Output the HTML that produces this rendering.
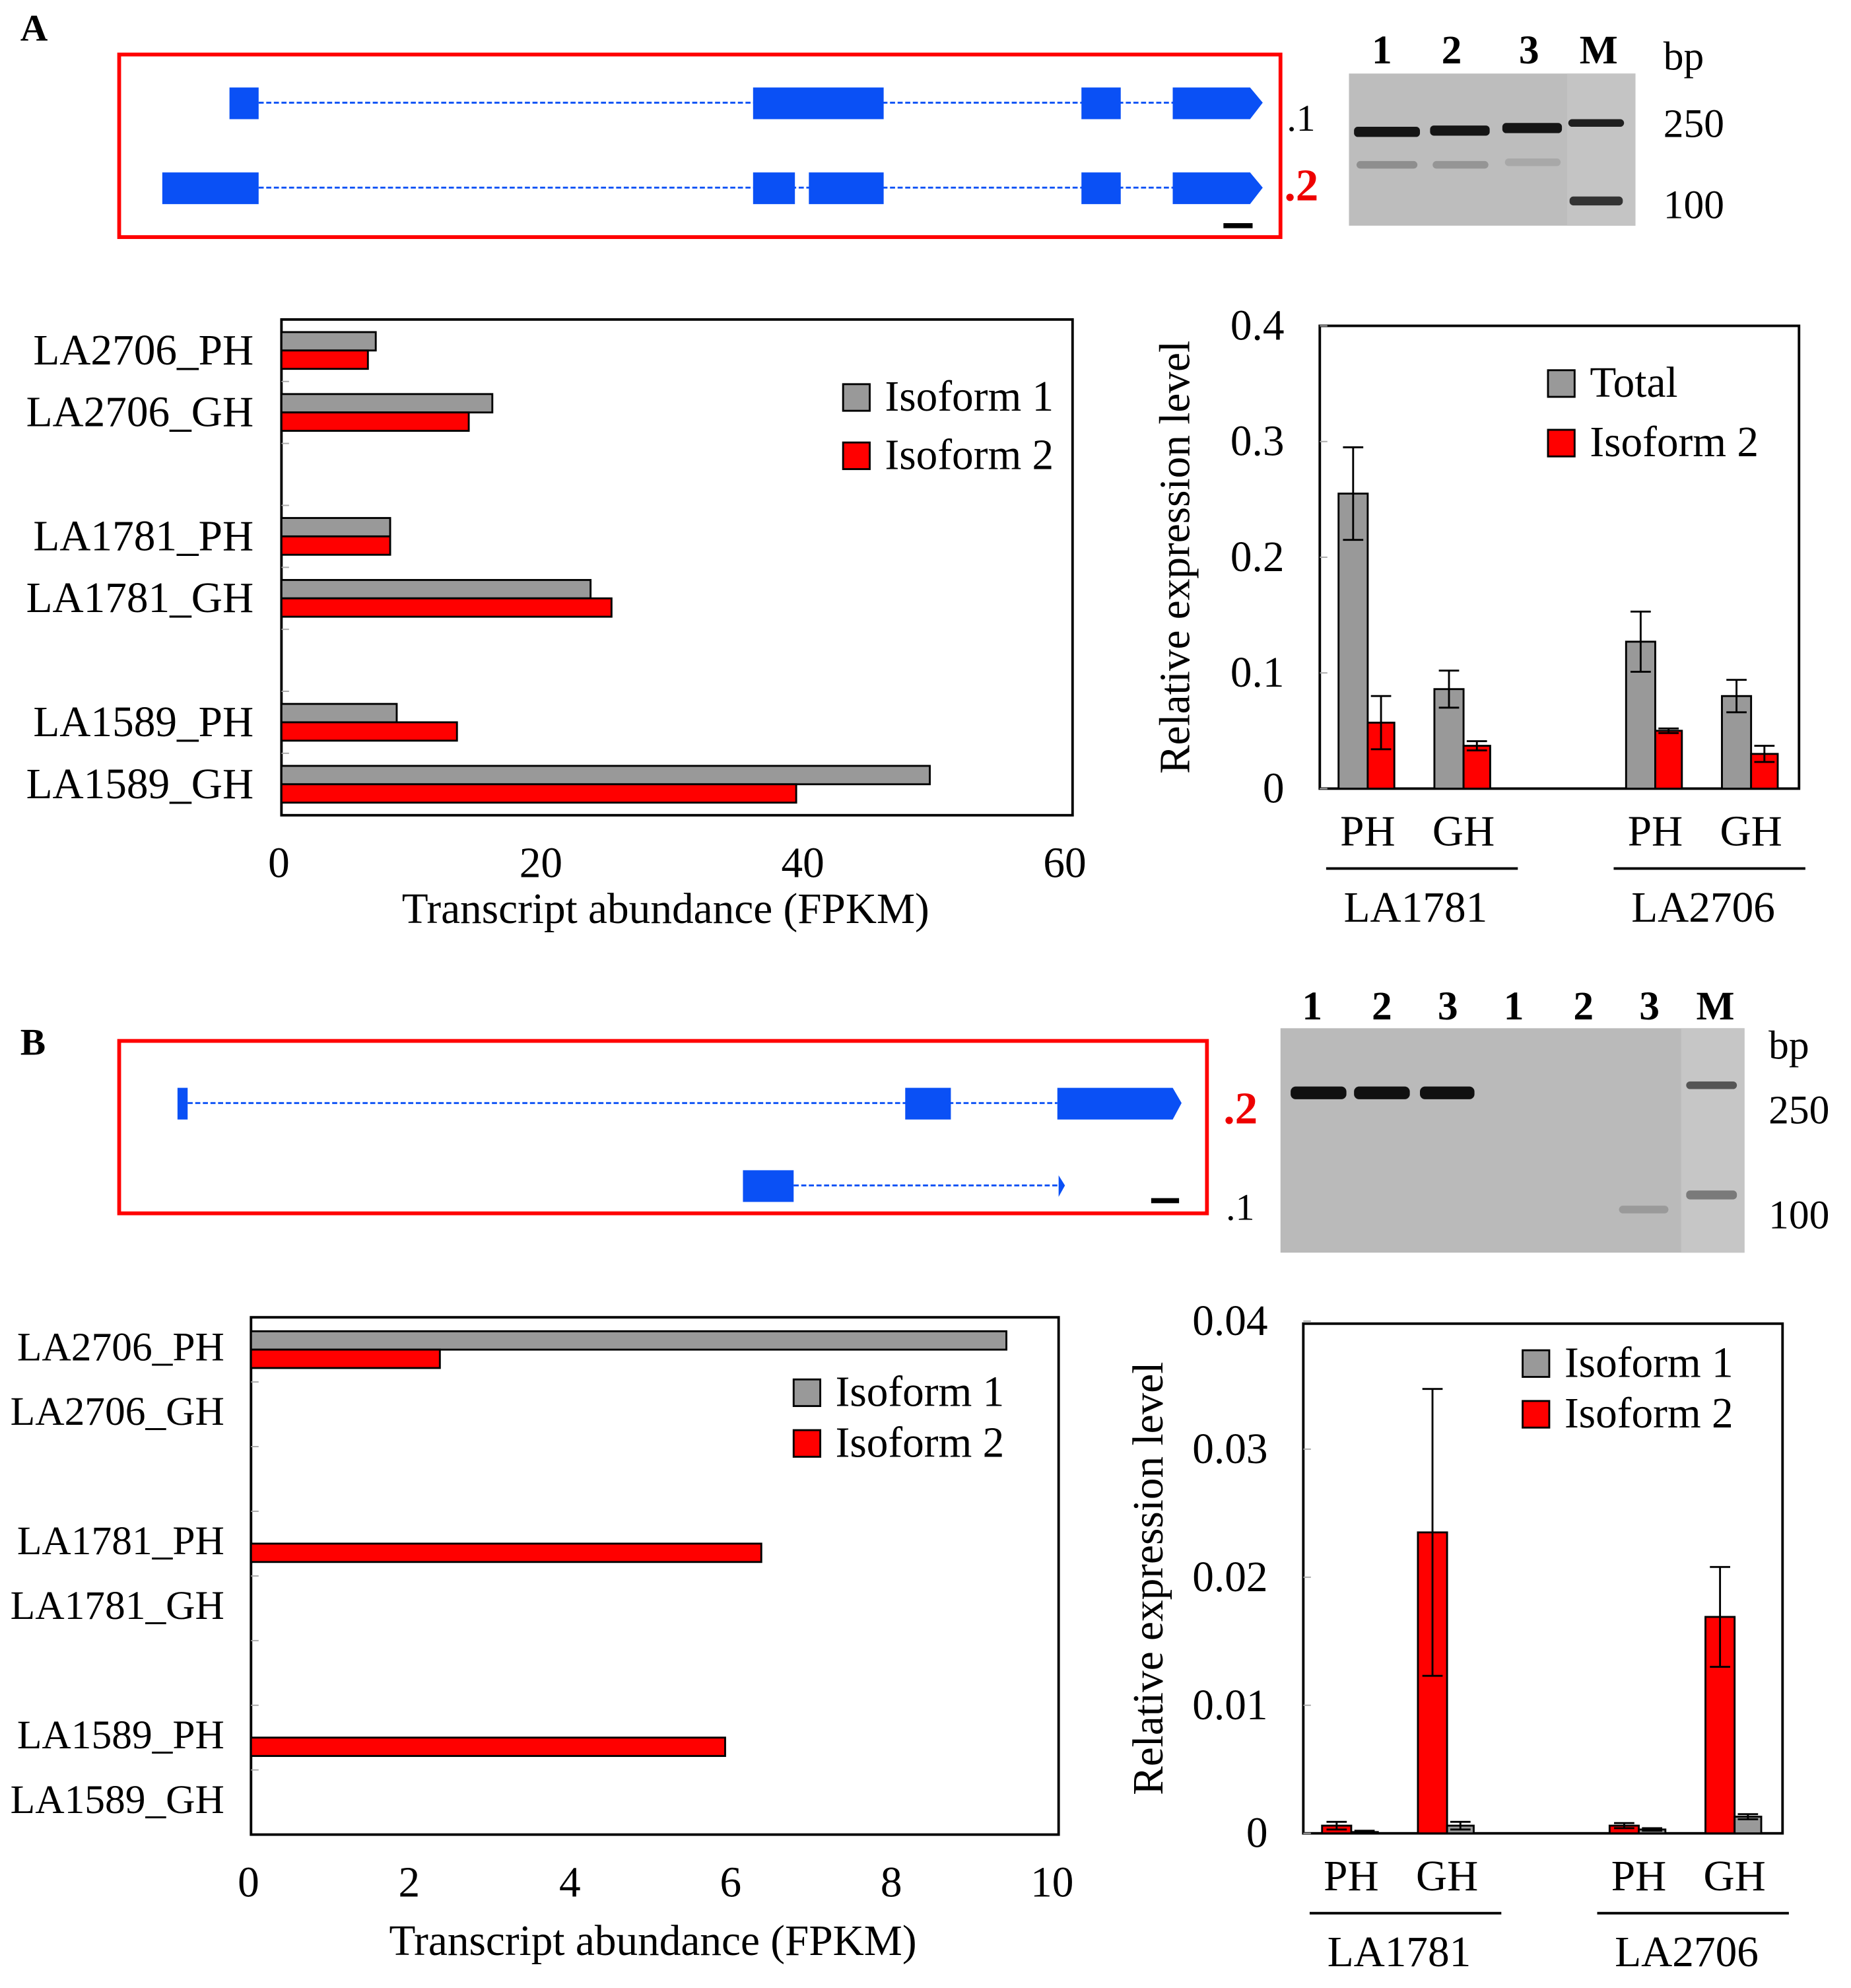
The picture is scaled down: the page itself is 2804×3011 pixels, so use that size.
<!DOCTYPE html>
<html><head><meta charset="utf-8">
<style>
html,body{margin:0;padding:0;background:#fff;}
svg{display:block;font-family:"Liberation Serif",serif;}
</style></head>
<body>
<svg id="fig" width="2804" height="3011" viewBox="0 0 1460 1568" preserveAspectRatio="none" xmlns="http://www.w3.org/2000/svg">
<rect x="0" y="0" width="1460" height="1568" fill="#fff"/>
<text x="16" y="32" font-size="30" font-weight="bold">A</text>
<rect x="94" y="43" width="916" height="144" fill="none" stroke="#f00" stroke-width="3"/>
<g fill="#0a50f5">
<line x1="204" y1="81" x2="925" y2="81" stroke="#0a50f5" stroke-width="1.5" stroke-dasharray="4,2"/>
<rect x="181" y="69" width="23" height="25"/><rect x="594" y="69" width="103" height="25"/><rect x="853" y="69" width="31" height="25"/>
<polygon points="925,69 986,69 996,81 986,94 925,94"/>
</g>
<g fill="#0a50f5">
<line x1="204" y1="148" x2="925" y2="148" stroke="#0a50f5" stroke-width="1.5" stroke-dasharray="4,2"/>
<rect x="128" y="136" width="76" height="25"/><rect x="594" y="136" width="33" height="25"/><rect x="638" y="136" width="59" height="25"/><rect x="853" y="136" width="31" height="25"/>
<polygon points="925,136 986,136 996,148 986,161 925,161"/>
</g>
<rect x="965" y="176" width="23" height="4" fill="#000"/>
<text x="1015" y="103" font-size="30">.1</text>
<text x="1013" y="158" font-size="36" font-weight="bold" fill="#e00">.2</text>
<g>
<rect x="1064" y="58" width="226" height="120" fill="#bdbdbd"/>
<rect x="1236" y="58" width="54" height="120" fill="#c4c4c4"/>
<rect x="1068" y="100" width="52" height="8" rx="3" fill="#151515"/>
<rect x="1128" y="99" width="47" height="8" rx="3" fill="#151515"/>
<rect x="1185" y="97" width="47" height="8" rx="3" fill="#151515"/>
<rect x="1237" y="94" width="44" height="6" rx="3" fill="#202020"/>
<rect x="1070" y="127" width="48" height="6" rx="3" fill="#8e8e8e"/>
<rect x="1130" y="127" width="44" height="6" rx="3" fill="#959595"/>
<rect x="1187" y="125" width="44" height="6" rx="3" fill="#a8a8a8"/>
<rect x="1238" y="155" width="42" height="7" rx="3" fill="#333"/>
</g>
<g font-size="32" font-weight="bold" text-anchor="middle">
<text x="1090" y="50">1</text><text x="1145" y="50">2</text><text x="1206" y="50">3</text><text x="1261" y="50">M</text>
</g>
<g font-size="32">
<text x="1312" y="55">bp</text><text x="1312" y="108">250</text><text x="1312" y="172">100</text>
</g>
<text x="16" y="832" font-size="30" font-weight="bold">B</text>
<rect x="94" y="821" width="858" height="136" fill="none" stroke="#f00" stroke-width="3"/>
<g fill="#0a50f5">
<line x1="148" y1="870" x2="834" y2="870" stroke="#0a50f5" stroke-width="1.5" stroke-dasharray="4,2"/>
<rect x="140" y="858" width="8" height="25"/><rect x="714" y="858" width="36" height="25"/>
<polygon points="834,858 925,858 932,870 925,883 834,883"/>
</g>
<g fill="#0a50f5">
<line x1="626" y1="935" x2="836" y2="935" stroke="#0a50f5" stroke-width="1.5" stroke-dasharray="4,2"/>
<rect x="586" y="923" width="40" height="25"/>
<polygon points="835,927 840,935 835,944"/>
</g>
<rect x="908" y="945" width="22" height="4" fill="#000"/>
<text x="965" y="886" font-size="36" font-weight="bold" fill="#e00">.2</text>
<text x="967" y="962" font-size="30">.1</text>
<g>
<rect x="1010" y="811" width="366" height="177" fill="#bababa"/>
<rect x="1326" y="811" width="50" height="177" fill="#c6c6c6"/>
<rect x="1018" y="857" width="44" height="10" rx="4" fill="#111"/>
<rect x="1068" y="857" width="44" height="10" rx="4" fill="#111"/>
<rect x="1120" y="857" width="43" height="10" rx="4" fill="#111"/>
<rect x="1330" y="853" width="40" height="6" rx="3" fill="#555"/>
<rect x="1330" y="939" width="40" height="7" rx="3" fill="#7a7a7a"/>
<rect x="1277" y="951" width="39" height="6" rx="3" fill="#9a9a9a"/>
</g>
<g font-size="32" font-weight="bold" text-anchor="middle">
<text x="1035" y="804">1</text><text x="1090" y="804">2</text><text x="1142" y="804">3</text><text x="1194" y="804">1</text><text x="1249" y="804">2</text><text x="1301" y="804">3</text><text x="1353" y="804">M</text>
</g>
<g font-size="32">
<text x="1395" y="835">bp</text><text x="1395" y="886">250</text><text x="1395" y="969">100</text>
</g>
<g id="charts"></g>
</svg>
<script>
const aCats = ["LA2706_PH","LA2706_GH","","LA1781_PH","LA1781_GH","","LA1589_PH","LA1589_GH"];
const aIso1 = [7.2,16.1,null,8.3,23.6,null,8.8,49.5];
const aIso2 = [6.6,14.3,null,8.3,25.2,null,13.4,39.3];
const aTicks = [0,20,40,60];
const bCats = ["LA2706_PH","LA2706_GH","","LA1781_PH","LA1781_GH","","LA1589_PH","LA1589_GH"];
const bIso1 = [9.4,0,null,0,0,null,0,0];
const bIso2 = [2.35,0,null,6.35,0,null,5.9,0];
const bTicks = [0,2,4,6,8,10];
const qaCats = ["PH","GH","","PH","GH"];
const qaGroups = ["LA1781","LA2706"];
const qaTotal = [0.255,0.086,null,0.127,0.080];
const qaTotalErr = [0.040,0.016,null,0.026,0.014];
const qaIso2 = [0.057,0.037,null,0.050,0.030];
const qaIso2Err = [0.023,0.004,null,0.002,0.007];
const qaTicks = [0,0.1,0.2,0.3,0.4];
const qaTickLabels = ["0","0.1","0.2","0.3","0.4"];
const qbCats = ["PH","GH","","PH","GH"];
const qbGroups = ["LA1781","LA2706"];
const qbIso2 = [0.0006,0.0235,null,0.0006,0.0169];
const qbIso2Err = [0.0003,0.0112,null,0.0002,0.0039];
const qbIso1 = [0.0001,0.0006,null,0.0003,0.0013];
const qbIso1Err = [0.0001,0.0003,null,0.0001,0.0002];
const qbTicks = [0,0.01,0.02,0.03,0.04];
const qbTickLabels = ["0","0.01","0.02","0.03","0.04"];

const NS="http://www.w3.org/2000/svg";
const root=document.getElementById('charts');
function mk(tag,attrs,parent){const e=document.createElementNS(NS,tag);for(const k in attrs)e.setAttribute(k,attrs[k]);(parent||root).appendChild(e);return e;}
function txt(s,attrs,parent){const e=mk('text',attrs,parent);e.textContent=s;return e;}
const GRAY="#999", RED="#ff0000";

function hbar(prefix,cats,s1,s2,ticks,box,xmax,title,legend){
  const g=mk('g',{});
  
  
  const xs=v=>box.x0+(v/xmax)*(box.x1-box.x0);
  const slot=(box.y1-box.y0)/cats.length;
  const bh=14.5;
  const frame=mk('rect',{x:box.x0,y:box.y0,width:box.x1-box.x0,height:box.y1-box.y0,fill:'none',stroke:'#000','stroke-width':2},g);
  
  
  for(let i=1;i<cats.length;i++){mk('line',{x1:box.x0,x2:box.x0+6,y1:box.y0+i*slot,y2:box.y0+i*slot,stroke:'#aaa','stroke-width':1},g);}
  cats.forEach((c,i)=>{
    const cy=box.y0+(i+0.5)*slot;
    if(c){
      const l=txt(c,{x:box.lab,y:cy+box.ly,'font-size':box.fs,'text-anchor':'end','dominant-baseline':'central'},g);
      
      
    }
    if(s1[i]){
      const r=mk('rect',{x:box.x0,y:cy-bh,width:xs(s1[i])-box.x0,height:bh,fill:GRAY,stroke:'#000','stroke-width':1.5},g);
      
      
    }
    if(s2[i]){
      const r=mk('rect',{x:box.x0,y:cy,width:xs(s2[i])-box.x0,height:bh,fill:RED,stroke:'#000','stroke-width':1.5},g);
      
      
    }
  });
  ticks.forEach(t=>{
    const l=txt(String(t),{x:xs(t)-2,y:box.y1+38,'font-size':34,'text-anchor':'middle','dominant-baseline':'central'},g);
    
    
  });
  const tt=txt(title,{x:box.tx,y:box.y1+box.ty,'font-size':34,'text-anchor':'middle','dominant-baseline':'central'},g);
  
  
  legend.forEach((L,i)=>{
    const r=mk('rect',{x:L.x,y:L.y-10,width:21,height:21,fill:L.c,stroke:'#000','stroke-width':1.5},g);
    
    
    const t=txt(L.t,{x:L.x+33,y:L.y,'font-size':34,'dominant-baseline':'central'},g);
    
    
  });
}

function vbar(prefix,cats,groups,sA,eA,cA,sB,eB,cB,ticks,tickLabels,box,ymax,legend){
  const g=mk('g',{});
  
  
  const ys=v=>box.y1-(v/ymax)*(box.y1-box.y0);
  const slot=(box.x1-box.x0)/cats.length;
  const bw=23;
  const frame=mk('rect',{x:box.x0,y:box.y0,width:box.x1-box.x0,height:box.y1-box.y0,fill:'none',stroke:'#000','stroke-width':2},g);
  
  
  ticks.forEach((t,i)=>{
    mk('line',{x1:box.x0,x2:box.x0+6,y1:ys(t),y2:ys(t),stroke:'#aaa','stroke-width':1},g);
    const l=txt(tickLabels[i],{x:box.x0-28,y:ys(t),'font-size':34,'text-anchor':'end','dominant-baseline':'central'},g);
    
    
  });
  function err(cx,v,e){
    mk('line',{x1:cx,x2:cx,y1:ys(v+e),y2:ys(Math.max(v-e,0)),stroke:'#000','stroke-width':1.5},g);
    mk('line',{x1:cx-8,x2:cx+8,y1:ys(v+e),y2:ys(v+e),stroke:'#000','stroke-width':1.5},g);
    mk('line',{x1:cx-8,x2:cx+8,y1:ys(Math.max(v-e,0)),y2:ys(Math.max(v-e,0)),stroke:'#000','stroke-width':1.5},g);
  }
  cats.forEach((c,i)=>{
    const cx=box.x0+(i+0.5)*slot;
    if(!c) return;
    const ra=mk('rect',{x:cx-bw,y:ys(sA[i]),width:bw,height:box.y1-ys(sA[i]),fill:cA,stroke:'#000','stroke-width':1.5},g);
    
    
    const rb=mk('rect',{x:cx,y:ys(sB[i]),width:bw-2,height:box.y1-ys(sB[i]),fill:cB,stroke:'#000','stroke-width':1.5},g);
    
    
    err(cx-bw/2,sA[i],eA[i]);
    err(cx+bw/2-1,sB[i],eB[i]);
    const l=txt(c,{x:cx,y:box.y1+34,'font-size':34,'text-anchor':'middle','dominant-baseline':'central'},g);
    
    
  });
  groups.forEach((gr,k)=>{
    const xa=box.x0+(k*3)*slot, xb=xa+2*slot;
    mk('line',{x1:xa+5,x2:xb+5,y1:box.y1+63,y2:box.y1+63,stroke:'#000','stroke-width':2},g);
    const l=txt(gr,{x:(xa+xb)/2,y:box.y1+94,'font-size':34,'text-anchor':'middle','dominant-baseline':'central'},g);
    
    
  });
  const yt=txt('Relative expression level',{x:0,y:0,'font-size':34,'text-anchor':'middle','dominant-baseline':'central',transform:`translate(${box.ytx},${(box.y0+box.y1)/2}) rotate(-90)`},g);
  
  
  legend.forEach((L,i)=>{
    const r=mk('rect',{x:L.x,y:L.y-10,width:21,height:21,fill:L.c,stroke:'#000','stroke-width':1.5},g);
    
    
    const t=txt(L.t,{x:L.x+33,y:L.y,'font-size':34,'dominant-baseline':'central'},g);
    
    
  });
}

hbar('panel-a',aCats,aIso1,aIso2,aTicks,{x0:222,x1:846,y0:252,y1:643,lab:200,tx:525,ty:74,fs:34,ly:0},60.4,'Transcript abundance (FPKM)',
  [{x:665,y:313,c:GRAY,t:'Isoform 1'},{x:665,y:359,c:RED,t:'Isoform 2'}]);
hbar('panel-b',bCats,bIso1,bIso2,bTicks,{x0:198,x1:835,y0:1039,y1:1447,lab:177,tx:515,ty:84,fs:32,ly:-2},10.05,'Transcript abundance (FPKM)',
  [{x:626,y:1098,c:GRAY,t:'Isoform 1'},{x:626,y:1138,c:RED,t:'Isoform 2'}]);
vbar('panel-a',qaCats,qaGroups,qaTotal,qaTotalErr,GRAY,qaIso2,qaIso2Err,RED,qaTicks,qaTickLabels,{x0:1041,x1:1419,y0:257,y1:622,ytx:927},0.4,
  [{x:1221,y:302,c:GRAY,t:'Total'},{x:1221,y:349,c:RED,t:'Isoform 2'}]);
vbar('panel-b',qbCats,qbGroups,qbIso2,qbIso2Err,RED,qbIso1,qbIso1Err,GRAY,qbTicks,qbTickLabels,{x0:1028,x1:1406,y0:1044,y1:1446,ytx:906},0.0398,
  [{x:1201,y:1075,c:GRAY,t:'Isoform 1'},{x:1201,y:1115,c:RED,t:'Isoform 2'}]);
</script>
</body></html>
